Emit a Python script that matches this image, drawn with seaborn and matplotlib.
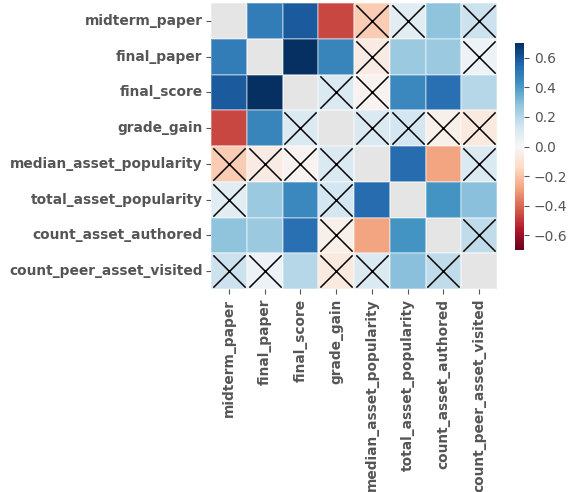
import numpy as np
import pandas as pd
import matplotlib
matplotlib.use("Agg")
import matplotlib.pyplot as plt
import seaborn as sns

# variable names (rows and columns of the correlation matrix)
variables = ['midterm_paper', 'final_paper', 'final_score', 'grade_gain',
             'median_asset_popularity', 'total_asset_popularity',
             'count_asset_authored', 'count_peer_asset_visited']

# upper triangle of correlations, read row by row
corr_upper = [
    [0.49, 0.59, -0.47, -0.18, 0.08, 0.28, 0.15],
    [0.70, 0.46, -0.06, 0.26, 0.26, 0.04],
    [0.10, -0.02, 0.45, 0.53, 0.20],
    [0.10, 0.13, -0.04, -0.07],
    [0.54, -0.28, 0.10],
    [0.42, 0.29],
    [0.18],
]

# pairs that are not significant (crossed out), as (row, col) in upper triangle
not_significant = [
    (0, 4), (0, 5), (0, 7),
    (1, 4), (1, 7),
    (2, 3), (2, 4),
    (3, 4), (3, 5), (3, 6), (3, 7),
    (4, 7),
    (6, 7),
]


def generate_plot():
    n = len(variables)
    corr = np.eye(n)
    for i, row in enumerate(corr_upper):
        for k, v in enumerate(row):
            j = i + 1 + k
            corr[i, j] = v
            corr[j, i] = v
    df = pd.DataFrame(corr, index=variables, columns=variables)

    plt.style.use('ggplot')
    fig = plt.figure(figsize=(5.77, 4.92), dpi=100)
    W, H = 577, 492
    ax = fig.add_axes([211 / W, 1 - 289 / H, 286 / W, 286 / H])
    cax = fig.add_axes([515 / W, 1 - 250 / H, 9 / W, 207 / H])

    mask = np.eye(n, dtype=bool)
    sns.heatmap(df, mask=mask, cmap='RdBu', vmin=-0.7, vmax=0.7,
                square=True, ax=ax, cbar_ax=cax,
                linewidths=0.3, linecolor=(1, 1, 1, 0.3))
    ax.grid(False)

    # cross out the non-significant cells (both halves)
    xs, ys = [], []
    for i, j in not_significant:
        xs += [j + 0.5, i + 0.5]
        ys += [i + 0.5, j + 0.5]
    ax.scatter(xs, ys, marker='x', s=540, c='black', linewidths=1.1, zorder=3)

    for lab in ax.get_xticklabels() + ax.get_yticklabels():
        lab.set_fontweight('bold')
        lab.set_fontsize(9.9)
        lab.set_color('#555555')
    plt.setp(ax.get_xticklabels(), rotation=90)
    plt.setp(ax.get_yticklabels(), rotation=0)
    ax.tick_params(axis='y', pad=2.5)
    ax.set_xlabel('')
    ax.set_ylabel('')

    cax.set_yticks([-0.6, -0.4, -0.2, 0.0, 0.2, 0.4, 0.6])
    cax.tick_params(labelsize=10, colors='#555555')

    fig.savefig('out.png', dpi=100)
    plt.close(fig)


if __name__ == "__main__":
    generate_plot()
